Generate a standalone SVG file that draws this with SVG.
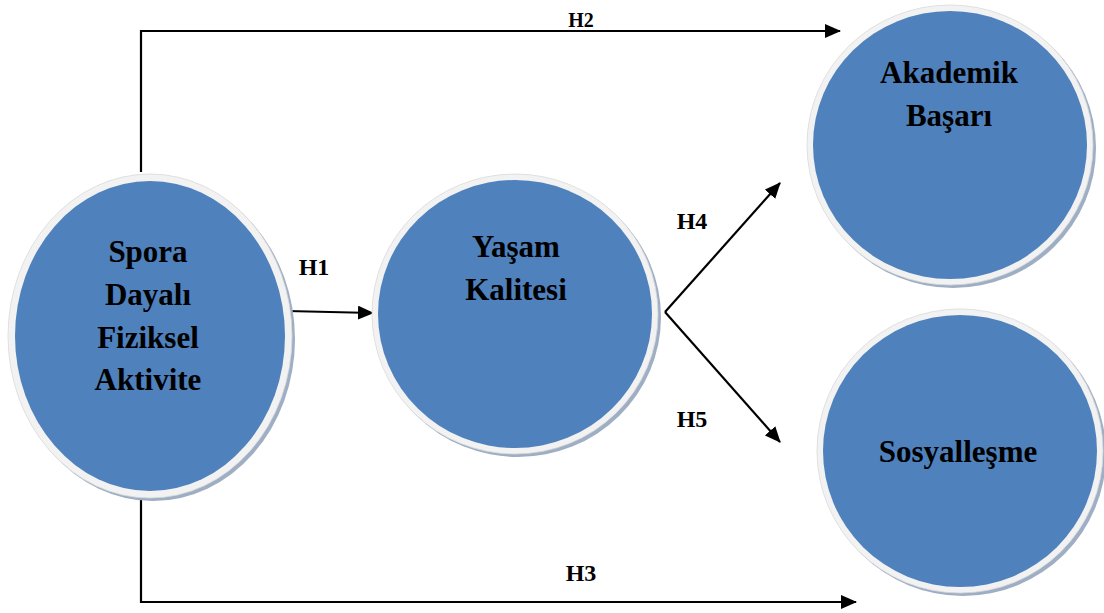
<svg xmlns="http://www.w3.org/2000/svg" width="1104" height="613" viewBox="0 0 1104 613">
<style>
.shadow{fill:#9eaec4}
.ring{fill:#f2f2f2;stroke:#d9d9d9;stroke-width:0.8}
.core{fill:#4f81bd}
.t{font-family:"Liberation Serif","Times New Roman",serif;font-weight:bold;fill:#000;text-anchor:middle}
.nt{font-size:31px}
.lbl{font-size:24px}
.conn{fill:none;stroke:#000;stroke-width:2.2}
</style>
<defs>
<marker id="ah" viewBox="0 0 16 14" refX="15" refY="7" markerWidth="16" markerHeight="14" markerUnits="userSpaceOnUse" orient="auto">
<path d="M0,0 L16,7 L0,14 Z" fill="#000"/>
</marker>
</defs>
<g id="connectors">
<polyline class="conn" points="141,172 141,31 840,31" marker-end="url(#ah)"/>
<polyline class="conn" points="141,495 141,602 856,602" marker-end="url(#ah)"/>
<line class="conn" x1="287" y1="311" x2="373" y2="313" marker-end="url(#ah)"/>
<line class="conn" x1="665" y1="312" x2="780" y2="183" marker-end="url(#ah)"/>
<line class="conn" x1="665" y1="312" x2="780" y2="442" marker-end="url(#ah)"/>
<text class="t" style="font-size:20px" x="581" y="27">H2</text>
<text class="t lbl" x="581" y="581">H3</text>
<text class="t lbl" x="314" y="275">H1</text>
<text class="t lbl" x="692" y="229">H4</text>
<text class="t lbl" x="692" y="427">H5</text>
</g>
<g id="node-spora">
<ellipse class="shadow" cx="153" cy="339" rx="142" ry="162"/>
<ellipse class="ring" cx="150" cy="336" rx="142" ry="162"/>
<ellipse class="core" cx="150" cy="336" rx="135" ry="155"/>
<text class="t nt" x="148" y="262">Spora</text>
<text class="t nt" x="148" y="305">Dayalı</text>
<text class="t nt" x="148" y="348">Fiziksel</text>
<text class="t nt" x="148" y="390">Aktivite</text>
</g>
<g id="node-yasam">
<ellipse class="shadow" cx="518" cy="317" rx="143" ry="140"/>
<ellipse class="ring" cx="515" cy="314" rx="143" ry="140"/>
<ellipse class="core" cx="515" cy="314" rx="137" ry="134"/>
<text class="t nt" x="516" y="257">Yaşam</text>
<text class="t nt" x="516" y="300">Kalitesi</text>
</g>
<g id="node-akademik">
<ellipse class="shadow" cx="953" cy="148" rx="143" ry="140"/>
<ellipse class="ring" cx="950" cy="145" rx="143" ry="140"/>
<ellipse class="core" cx="950" cy="145" rx="137" ry="134"/>
<text class="t nt" x="949" y="83">Akademik</text>
<text class="t nt" x="949" y="126">Başarı</text>
</g>
<g id="node-sosyal">
<ellipse class="shadow" cx="963" cy="454" rx="143" ry="142"/>
<ellipse class="ring" cx="960" cy="451" rx="143" ry="142"/>
<ellipse class="core" cx="960" cy="451" rx="137" ry="136"/>
<text class="t nt" x="958" y="462">Sosyalleşme</text>
</g>
</svg>
